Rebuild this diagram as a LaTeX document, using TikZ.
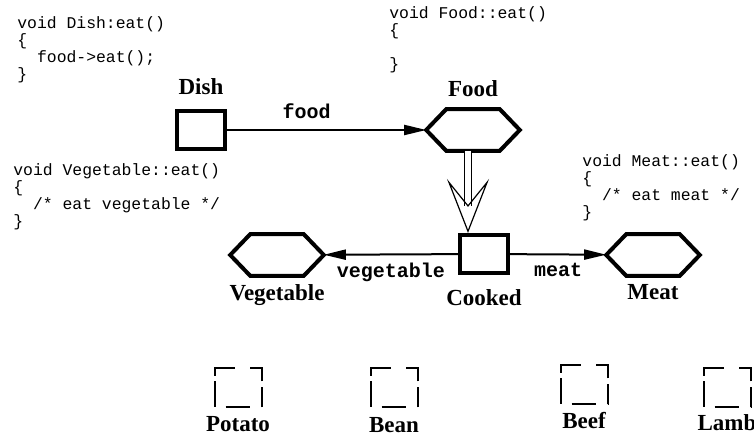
\documentclass[tikz,border=0pt]{standalone}
\usepackage{fontspec}
\setmainfont{Liberation Serif}
\setmonofont{Liberation Mono}
\usetikzlibrary{arrows.meta, positioning}
\tikzset{
    classbox/.style={
        rectangle, draw, line width=2pt, minimum width=24pt, minimum height=19pt,
        inner sep=0pt
    },
    abstract/.style={
        rectangle, minimum width=44pt, minimum height=18pt, inner sep=0pt,
        outer sep=1.4pt
    },
    hexline/.style={
        draw, line width=2pt, line join=miter
    },
    leafbox/.style={
        rectangle, draw, line width=1pt, minimum width=23.5pt, minimum height=19.5pt,
        inner sep=0pt,
        dash pattern=on 12pt off 6pt on 10pt off 3pt on 12.5pt off 7.5pt on 14pt off 2.5pt on 13pt off 5.5pt,
        dash phase=80.5pt
    },
    classname/.style={
        font=\bfseries\fontsize{11.5}{12}\selectfont, inner sep=1pt
    },
    code/.style={
        font=\ttfamily\fontsize{8.2}{8.6}\selectfont, align=left,
        anchor=north west, inner sep=0pt
    },
    rolename/.style={
        font=\ttfamily\bfseries\fontsize{10}{11}\selectfont, inner sep=1pt
    },
    arrow/.style={
        -{Triangle[length=11pt, width=5pt]}, line width=1pt
    },
    inherit/.style={
        double, double distance=3pt, line width=0.6pt,
        -{Stealth[open, length=27pt, width=21pt, inset=13pt]}
    }
}

\begin{document}
\begin{tikzpicture}[x=0.5pt, y=-0.5pt, node distance=4pt]

    \useasboundingbox (0,0) rectangle (754,437);

    % classes
    \node[classbox]  (dish)   at (201,130) {};
    \node[abstract]  (food)   at (473,130) {};
    \node[classbox]  (cooked) at (484,254) {};
    \node[abstract]  (veg)    at (277,255) {};
    \node[abstract]  (meat)   at (653,255) {};

    \foreach \n in {food, veg, meat}
        \draw[hexline] (\n.west) -- ([xshift=10pt]\n.north west) -- ([xshift=-10pt]\n.north east)
            -- (\n.east) -- ([xshift=-10pt]\n.south east) -- ([xshift=10pt]\n.south west) -- cycle;

    \node[classname, above=6pt of dish]   (dishname)   {Dish};
    \node[classname, above=5pt of food]   (foodname)   {Food};
    \node[classname, below=3pt of veg]    (vegname)    {Vegetable};
    \node[classname, below=6pt of cooked] (cookedname) {Cooked};
    \node[classname, below=3pt of meat]   (meatname)   {Meat};

    % leaves
    \node[leafbox] (potato) at (238,388) {};
    \node[leafbox] (bean)   at (394,388) {};
    \node[leafbox] (beef)   at (584,385) {};
    \node[leafbox] (lamb)   at (727,388) {};

    \node[classname, below=3pt of potato] (potatoname) {Potato};
    \node[classname, below=3.5pt of bean] (beanname)   {Bean};
    \node[classname, below=2pt of beef]   (beefname)   {Beef};
    \node[classname, below=2pt of lamb]   (lambname)   {Lamb};

    % links
    \draw[arrow] (dish) -- node[rolename, above=4pt, pos=0.4] (foodrole) {food} (food);
    \draw[arrow] (cooked) -- node[rolename, below=3pt] (vegrole) {vegetable} (veg);
    \draw[arrow] (cooked) -- node[rolename, below=3pt] (meatrole) {meat} (meat);
    \draw[inherit] ([xshift=-2.5pt]food.south) -- ([xshift=-2.5pt]food.south |- cooked.north);

    % code
    \node[code] (dishcode) at (17,16) {void Dish:eat()\\\{\\\ \ food->eat();\\\}};
    \node[code] (foodcode) at (389,6) {void Food::eat()\\\{\\\mbox{}\\\}};
    \node[code] (vegcode)  at (13,163) {void Vegetable::eat()\\\{\\\ \ /* eat vegetable */\\\}};
    \node[code] (meatcode) at (582,154) {void Meat::eat()\\\{\\\ \ /* eat meat */\\\}};

\end{tikzpicture}
\end{document}
